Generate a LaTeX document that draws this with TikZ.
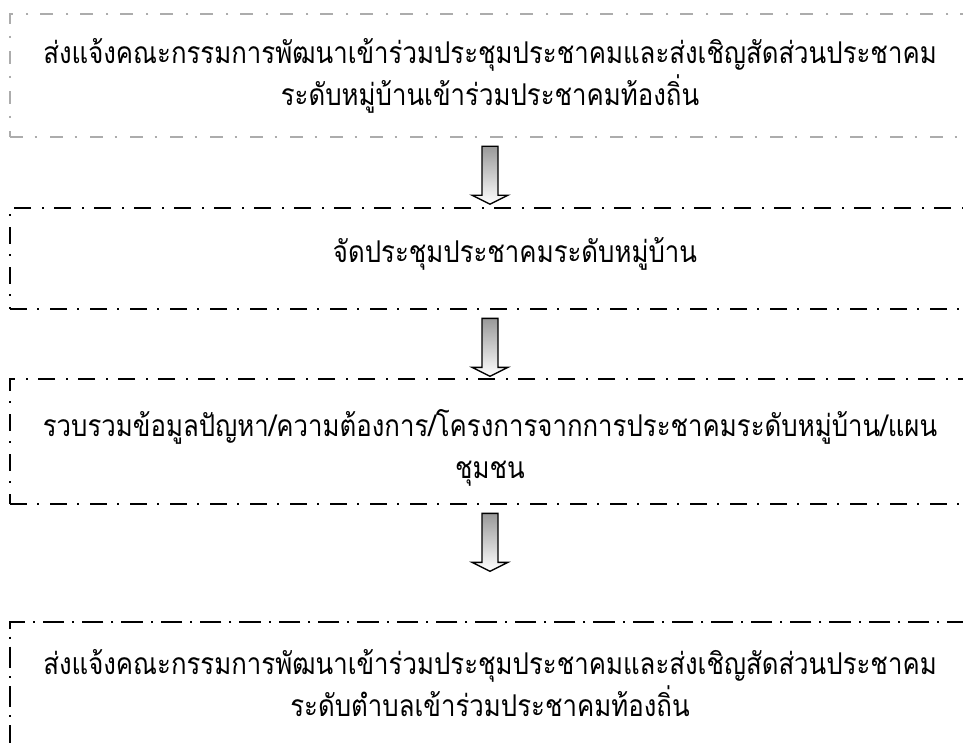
\documentclass[tikz,border=0pt]{standalone}
\usepackage{fontspec}
\newfontfamily\thaifont[Script=Thai, FakeStretch=0.86]{Loma}
\usetikzlibrary{calc}
\begin{document}
\begin{tikzpicture}[x=0.75pt, y=-0.75pt,
    boxa/.style={draw=gray!65, line width=1.8pt, dash pattern=on 10pt off 8.5pt on 1.5pt off 10pt},
    boxb/.style={draw=black, line width=2pt, dash pattern=on 13pt off 7.5pt on 1.5pt off 8pt},
    boxc/.style={draw=black, line width=1.9pt, dash pattern=on 16pt off 6pt on 1.5pt off 6pt},
    stage/.style={rectangle, minimum width=720pt, inner sep=0pt},
    label/.style={inner sep=0pt, align=center, font=\thaifont\fontsize{22.5}{31.5}\selectfont},
    blockarrow/.style={draw=black, line width=1pt, top color=gray!80, bottom color=white}]

    % Fix the page size
    \useasboundingbox (0,0) rectangle (963,742);
    \clip (0,0) rectangle (963,742);

    % Draw the boxes (the right side runs off the page)
    \node[stage, boxa, minimum height=92.25pt] (box1) at (490,75.5) {};
    \node[stage, boxb, minimum height=75.75pt] (box2) at (490,258.5) {};
    \node[stage, boxb, minimum height=93.75pt] (box3) at (490,441.5) {};
    \node[stage, boxc, minimum height=105pt] (box4) at (490,692) {};

    % Add the text of each box
    \node[label] (text1) at (490,76)
        {ส่งแจ้งคณะกรรมการพัฒนาเข้าร่วมประชุมประชาคมและส่งเชิญสัดส่วนประชาคม\\
         ระดับหมู่บ้านเข้าร่วมประชาคมท้องถิ่น};
    \node[label] (text2) at (515,254) {จัดประชุมประชาคมระดับหมู่บ้าน};
    \node[label] (text3) at (490,448)
        {รวบรวมข้อมูลปัญหา/ความต้องการ/โครงการจากการประชาคมระดับหมู่บ้าน/แผน\\
         ชุมชน};
    \node[label] (text4) at (490,683)
        {ส่งแจ้งคณะกรรมการพัฒนาเข้าร่วมประชุมประชาคมและส่งเชิญสัดส่วนประชาคม\\
         ระดับตำบลเข้าร่วมประชาคมท้องถิ่น};

    % Draw the block arrows between the boxes
    \foreach \from in {box1,box2,box3} {
        \draw[blockarrow] ($(\from.south)+(-8,8)$) -- ++(16,0) -- ++(0,49) -- ++(10,0)
            -- ++(-18,9) -- ++(-18,-9) -- ++(10,0) -- cycle;
    }

\end{tikzpicture}
\end{document}
